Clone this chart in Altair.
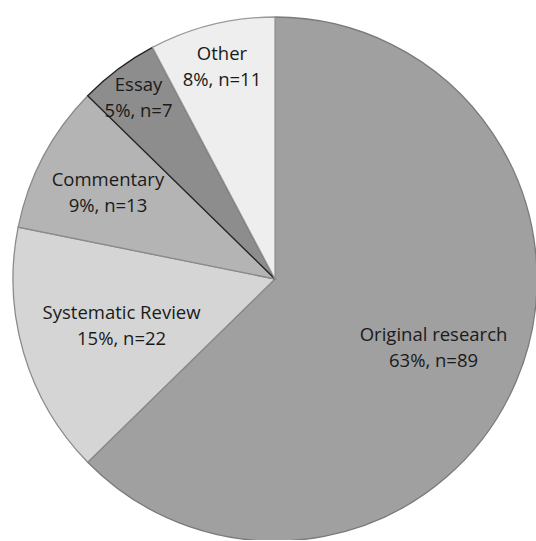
import altair as alt
import pandas as pd

# Publication types, in clockwise order starting at 12 o'clock
categories = ["Original research", "Systematic Review", "Commentary", "Essay", "Other"]
counts = [89, 22, 13, 7, 11]
percents = [63, 15, 9, 5, 8]

# Slice fills and outlines (greyscale)
fills = ["#a0a0a0", "#d5d5d5", "#b4b4b4", "#8d8d8d", "#eeeeee"]
outlines = ["#7a7a7a", "#8a8a8a", "#8a8a8a", "#222222", "#9a9a9a"]
# Distance of each label from the pie centre, in pixels
label_radius = {"Original research": 172, "Systematic Review": 160,
                "Commentary": 189, "Essay": 228, "Other": 220}

df = pd.DataFrame({
    "type": categories,
    "n": counts,
    "order": list(range(len(categories))),
})
df["label"] = [f"{c}\n{p}%, n={n}" for c, p, n in zip(categories, percents, counts)]
df["lr"] = df["type"].map(label_radius)

R = 262
total = sum(counts)

pie = alt.Chart(df).mark_arc(radius=R, strokeWidth=1.3).encode(
    theta=alt.Theta("n:Q", stack=True, scale=alt.Scale(domain=[0, total])),
    order=alt.Order("order:Q"),
    color=alt.Color("type:N", scale=alt.Scale(domain=categories, range=fills), legend=None),
    stroke=alt.Stroke("type:N", scale=alt.Scale(domain=categories, range=outlines), legend=None),
)

# Labels sit at the angular middle of each slice
labels = alt.Chart(df).transform_window(
    cum="sum(n)", sort=[alt.SortField("order")], frame=[None, 0]
).transform_calculate(
    mid="datum.cum - datum.n / 2"
).mark_text(
    font="Open Sans", fontSize=18.5, color="#1a1a1a", lineBreak="\n",
    lineHeight=26, align="center", baseline="middle", dy=-11,
).encode(
    theta=alt.Theta("mid:Q", scale=alt.Scale(domain=[0, total])),
    radius=alt.Radius("lr:Q", scale=None),
    text="label:N",
)

chart = alt.layer(pie, labels).properties(
    width=522, height=522,
    padding={"left": 14, "top": 18, "right": 0, "bottom": 0},
    autosize=alt.AutoSizeParams(type="none"),
).configure_view(stroke=None).configure(background="white")

chart.save("out.html", embed_options={"renderer": "svg", "actions": False})
